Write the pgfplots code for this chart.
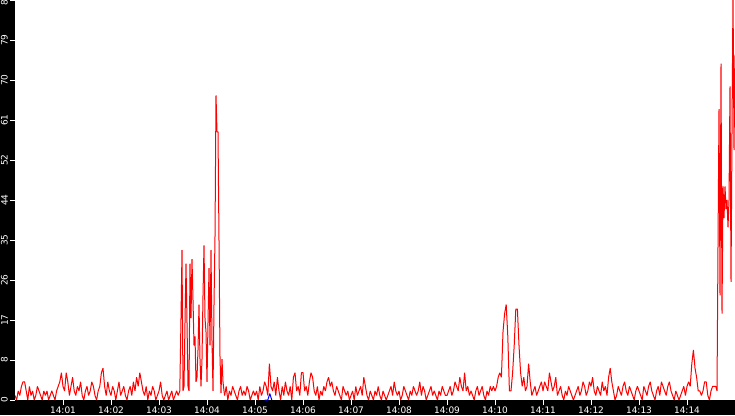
\documentclass[border=0pt]{standalone}
\usepackage{pgfplots}
\usepackage{pgfplotstable}
\pgfplotsset{compat=1.18}
\usepackage{fontspec}
\setmainfont{DejaVu Sans}
% values every 2 s, 14:00:00 to 14:03:26
\pgfplotstableread[row sep=\\]{
y\\
1\\0\\2\\1\\3\\4\\4\\2\\0\\3\\1\\2\\0\\1\\3\\2\\1\\0\\2\\1\\2\\0\\1\\2\\1\\0\\2\\3\\4\\6\\
3\\2\\6\\4\\1\\3\\5\\2\\1\\3\\2\\4\\1\\0\\2\\3\\1\\2\\4\\3\\1\\0\\2\\3\\6\\7\\3\\1\\4\\2\\
1\\3\\2\\0\\2\\4\\1\\2\\3\\1\\0\\2\\3\\1\\4\\2\\5\\3\\6\\4\\2\\1\\3\\0\\2\\1\\3\\2\\0\\1\\
2\\4\\1\\0\\1\\2\\0\\1\\2\\0\\1\\2\\1\\2\\
}\partA
% values every 2 s, 14:04:22 to 14:14:36
\pgfplotstableread[row sep=\\]{
y\\
1\\3\\0\\2\\1\\3\\2\\1\\0\\2\\3\\1\\2\\1\\3\\2\\0\\1\\2\\
1\\2\\0\\3\\1\\2\\4\\3\\1\\8\\3\\2\\4\\1\\5\\2\\0\\3\\1\\4\\2\\1\\3\\0\\5\\6\\2\\3\\1\\6\\
6\\2\\3\\1\\4\\6\\5\\2\\1\\3\\0\\2\\1\\3\\2\\4\\5\\3\\4\\2\\1\\3\\2\\1\\0\\3\\2\\1\\2\\0\\
1\\2\\0\\3\\1\\2\\3\\1\\5\\3\\1\\0\\2\\1\\0\\2\\1\\3\\1\\0\\2\\1\\0\\1\\2\\3\\1\\4\\2\\1\\
2\\0\\1\\3\\2\\1\\0\\2\\1\\3\\2\\1\\2\\4\\1\\3\\2\\0\\1\\2\\3\\1\\2\\1\\0\\2\\1\\3\\2\\1\\
1\\2\\3\\1\\2\\4\\3\\2\\5\\3\\2\\6\\2\\3\\1\\2\\1\\0\\2\\3\\1\\2\\3\\1\\0\\2\\1\\3\\2\\3\\
2\\3\\5\\6\\5\\15\\19\\21\\14\\2\\2\\6\\12\\20\\20\\12\\6\\3\\5\\2\\3\\8\\4\\1\\2\\3\\1\\2\\3\\4\\
2\\4\\3\\2\\6\\4\\2\\3\\5\\1\\2\\3\\1\\0\\2\\1\\3\\2\\1\\0\\1\\2\\3\\1\\2\\4\\3\\1\\2\\4\\
3\\5\\2\\1\\3\\2\\1\\4\\2\\3\\1\\5\\7\\4\\2\\0\\1\\3\\2\\1\\3\\4\\2\\1\\3\\2\\1\\0\\2\\3\\
2\\1\\0\\3\\2\\1\\3\\4\\2\\1\\0\\2\\3\\1\\4\\3\\2\\1\\3\\4\\2\\1\\0\\2\\1\\0\\1\\2\\3\\1\\
3\\4\\3\\8\\11\\7\\5\\2\\2\\1\\2\\4\\4\\1\\0\\2\\3\\3\\3\\
}\partB
\begin{document}
\begin{tikzpicture}[x=1bp,y=1bp]
\fill[black] (0,0) rectangle (735,415);
\begin{axis}[
  at={(15bp,15bp)}, anchor=south west,
  scale only axis, width=720bp, height=400bp,
  xmin=0, xmax=900, ymin=0, ymax=88,
  axis background/.style={fill=white},
  axis line style={draw=none},
  tick align=outside, major tick length=5bp,
  tick style={white, line width=1bp},
  xtick pos=bottom, ytick pos=left,
  xtick={60,120,180,240,300,360,420,480,540,600,660,720,780,840},
  xticklabels={14:01,14:02,14:03,14:04,14:05,14:06,14:07,14:08,14:09,14:10,14:11,14:12,14:13,14:14},
  ytick={0,8.8,17.6,26.4,35.2,44,52.8,61.6,70.4,79.2,88},
  yticklabels={0,8,17,26,35,44,52,61,70,79,88},
  ticklabel style={text=white, font=\fontsize{9}{9}\selectfont},
  xticklabel style={inner sep=0pt, anchor=north, yshift=-2bp},
  yticklabel style={xshift=-2bp, inner sep=0pt, rotate=90, anchor=south},
]
\addplot[blue, line width=1bp, line join=bevel] coordinates {(312,0) (316,0) (318.5,1.4) (321,0)};
\addplot[red, line width=1bp, line join=bevel] table[x expr=\coordindex*2, y=y] {\partA};
\addplot[red, line width=1bp, line join=bevel] coordinates {
(206,2) (207.5,18) (208.75,33) (210,2) (211.25,3) (212.5,17) (213.75,30) (215,17)
(216.25,3) (217.5,2) (218.75,30) (220,18) (221.25,31) (222.5,22) (223.75,12) (225,14)
(226.25,4) (227.5,5) (228.75,11) (230,21) (231.25,9) (232.5,3) (233.75,9) (235,23)
(236.25,34) (237.5,18) (238.75,15) (240,4) (241.25,17) (242.5,29) (243.75,12) (245,33)
(246.25,13) (247.5,2) (248.75,21) (250,36) (251.25,67) (252.5,59) (253.75,59) (255,35)
(256.25,9.5) (257.5,1.5) (258.75,9) (260,4) (261.25,2) (262,1)};
\addplot[red, line width=1bp, line join=bevel] table[x expr=262+\coordindex*2, y=y] {\partB};
\addplot[red, line width=1bp, line join=bevel] coordinates {
(876,3) (877.5,2) (878.75,34) (880,64) (881.25,23) (882.5,74) (883.75,19)
(885,47) (886.25,40) (887.5,47) (888.75,42) (890,44) (891.25,38) (892.5,44)
(893.75,69) (895,26) (896.25,59) (897.5,90) (898.75,55) (900,76)};
\end{axis}
\pgfresetboundingbox
\path[use as bounding box] (0,0) rectangle (735,415);
\end{tikzpicture}
\end{document}
